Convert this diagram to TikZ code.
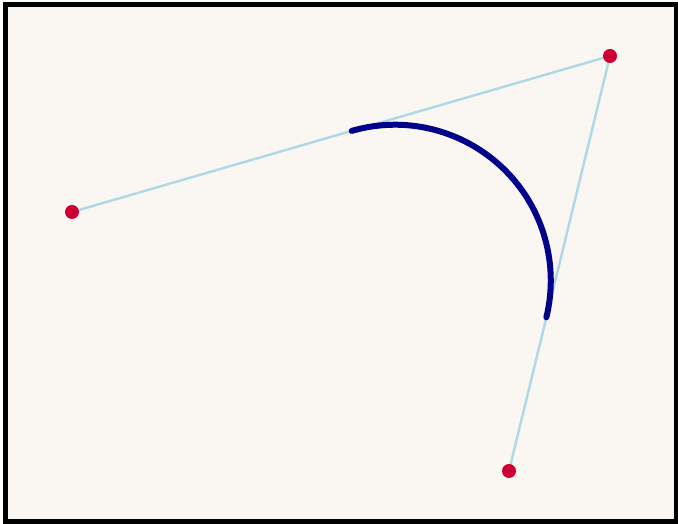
\documentclass[tikz,border=0pt]{standalone}
\usetikzlibrary{positioning}
\definecolor{bgcolor}{RGB}{250, 247, 242}
\definecolor{guidecolor}{RGB}{173, 216, 230}
\definecolor{arccolor}{RGB}{0, 0, 139}
\definecolor{dotcolor}{RGB}{204, 0, 51}
\tikzset{frame/.style={draw=black, line width=3.75pt, fill=bgcolor}}
\tikzset{guide/.style={draw=guidecolor, line width=1.8pt}}
\tikzset{curve/.style={draw=arccolor, line width=4.5pt, line cap=round}}
\tikzset{dot/.style={circle, fill=dotcolor, inner sep=0pt, minimum size=10.5pt}}

\begin{document}
\begin{tikzpicture}[x=0.75pt, y=0.75pt]
	\useasboundingbox (0,0) rectangle (678,524);
	
	%%% BACKGROUND %%%
	\draw[frame] (5.5,2.5) rectangle (676.5,519.5);
	
	%%% POINTS %%%
	\coordinate (p0) at (72,312);
	\coordinate (p1) at (610,468);
	\coordinate (p2) at (509,53);
	
	% TANGENT POINTS
	\coordinate (t1) at (351.7,393.1);
	\coordinate (t2) at (546.4,206.6);
	
	%%% LINES %%%
	\draw[guide] (p0) -- (p1);
	\draw[guide] (p1) -- (p2);
	
	% ARC
	\draw[curve] (t1) arc[start angle=106.13, end angle=-13.66, radius=155.8];
	
	%%% DOTS %%%
	\node[dot] (d0) at (p0) {};
	\node[dot] (d1) at (p1) {};
	\node[dot] (d2) at (p2) {};
	
\end{tikzpicture}
\end{document}
